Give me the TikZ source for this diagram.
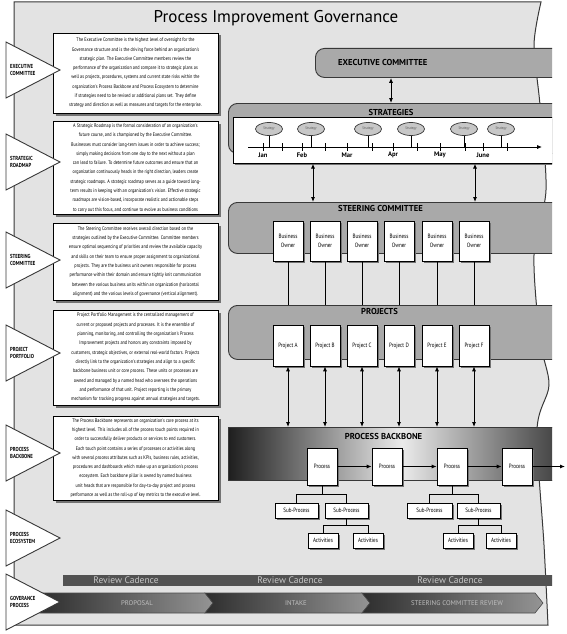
\documentclass[tikz,border=0pt]{standalone}
\usepackage{fontspec}
\setmainfont{PT Sans}
\newfontfamily\narrowfont[FakeStretch=0.82]{PT Sans}
\usetikzlibrary{positioning,shapes.geometric,shadows,arrows.meta}

\definecolor{panelgray}{HTML}{E3E3E3}
\definecolor{bandgray}{HTML}{A9A9A9}
\definecolor{edgegray}{HTML}{383838}

\begin{document}
\begin{tikzpicture}[x=1pt,y=-1pt,
  band/.style={fill=bandgray,draw=edgegray,line width=0.9pt,rounded corners=9pt,anchor=north west,inner sep=0pt,minimum width=360pt},
  bandlbl/.style={font=\bfseries\fontsize{8.6}{9}\selectfont,inner sep=0pt},
  para/.style={draw=black,fill=white,line width=0.9pt,minimum width=165pt,align=center,inner sep=2pt,
    font=\narrowfont\fontsize{5.2}{9.3}\selectfont,drop shadow={shadow xshift=2.5pt,shadow yshift=-2.5pt,fill=black!55,opacity=1}},
  tag/.style={font=\narrowfont\bfseries\fontsize{5.8}{7}\selectfont,align=left,inner sep=0pt,anchor=west},
  wbox/.style={draw=black,fill=white,line width=0.7pt,inner sep=0pt,align=center,
    font=\narrowfont\fontsize{6.2}{8.8}\selectfont,drop shadow={shadow xshift=1.6pt,shadow yshift=-1.6pt,fill=black!55,opacity=1}},
  strat/.style={ellipse,fill=black!22,draw=edgegray,line width=0.7pt,minimum width=27pt,minimum height=13pt,inner sep=0pt,
    font=\narrowfont\fontsize{3.8}{4}\selectfont,text=black!65},
  month/.style={font=\bfseries\fontsize{6.6}{7}\selectfont,inner sep=0pt},
  dbl/.style={line width=1pt,{Latex[length=5pt,width=4.2pt]}-{Latex[length=5pt,width=4.2pt]}},
  arr/.style={line width=1pt,-{Latex[length=5pt,width=4.2pt]}},
  twig/.style={line width=0.7pt},
  pale/.style={text=black!22,inner sep=0pt}
]
\useasboundingbox (0,0) rectangle (566,634);
\filldraw[fill=panelgray,draw=edgegray,line width=1pt] (14,2) -- plot[smooth] coordinates {(541,2) (534,45) (540,105) (546,190) (534,255) (540,340) (549,385) (537,430) (544,545) (548,625)} -- (14,625) -- cycle;
\node[font=\fontsize{17}{20}\selectfont,inner sep=0pt] (title) at (276,18) {Process Improvement Governance};

\node[para,minimum height=80pt] (txexec) at (135.5,73) {The Executive Committee is the highest level of oversight for the\\
Governance structure and is the driving force behind an organization's\\
strategic plan. The Executive Committee members review the\\
performance of the organization and compare it to strategic plans as\\
well as projects, procedures, systems and current state risks within the\\
organization's Process Backbone and Process Ecosystem to determine\\
if strategies need to be revised or additional plans set.  They define\\
strategy and direction as well as measures and targets for the enterprise.};
\node[para,minimum height=92pt] (txroad) at (135.5,168) {A Strategic Roadmap is the formal consideration of an organization's\\
future course, and is championed by the Executive Committee.\\
Businesses must consider long-term issues in order to achieve success;\\
simply making decisions from one day to the next without a plan\\
can lead to failure. To determine future outcomes and ensure that an\\
organization continuously heads in the right direction, leaders create\\
strategic roadmaps. A strategic roadmap serves as a guide toward long-\\
term results in keeping with an organization's vision. Effective strategic\\
roadmaps are vision-based, incorporate realistic and actionable steps\\
to carry out this focus, and continue to evolve as business conditions};
\node[para,minimum height=77pt] (txsteer) at (135.5,261.5) {The Steering Committee receives overall direction based on the\\
strategies outlined by the Executive Committee.  Committee members\\
ensure optimal sequencing of priorities and review the available capacity\\
and skills on their team to ensure proper assignment to organizational\\
projects.  They are the business unit owners responsible for process\\
performance within their domain and ensure tightly knit communication\\
between the various business units within an organization (horizontal\\
alignment) and the various levels of governance (vertical alignment).};
\node[para,minimum height=95pt] (txport) at (135.5,357.5) {Project Portfolio Management is the centralized management of\\
current or proposed projects and processes. It is the ensemble of\\
planning, monitoring, and controlling the organization's Process\\
Improvement projects and honors any constraints imposed by\\
customers, strategic objectives, or external real-world factors.  Projects\\
directly link to the organization's strategies and align to a specific\\
backbone business unit or core process.  These units or processes are\\
owned and managed by a named head who oversees the operations\\
and performance of that unit.  Project reporting is the primary\\
mechanism for tracking progress against annual strategies and targets.};
\node[para,minimum height=84pt] (txback) at (135.5,458) {The Process Backbone represents an organization's core process at its\\
highest level. This includes all of the process touch points required in\\
order to successfully deliver products or services to end customers.\\
Each touch point contains a series of processes or activities along\\
with several process attributes such as KPIs, business rules, activities,\\
procedures and dashboards which make up an organization's process\\
ecosystem. Each backbone pillar is owned by named business\\
unit heads that are responsible for day-to-day project and process\\
performance as well as the roll-up of key metrics to the executive level.};

\begin{scope}
\clip (0,0) rectangle (552,634);
\node[band,minimum width=260pt,minimum height=29pt] (exec) at (315,48) {};
\node[bandlbl,anchor=west] (execlbl) at (338,62) {EXECUTIVE COMMITTEE};
\node[band,minimum height=50pt] (strat) at (228,103) {};
\node[bandlbl] (stratlbl) at (391,112) {STRATEGIES};
\node[wbox,anchor=north west,minimum width=340pt,minimum height=46pt] (tline) at (233,117) {};
\node[band,minimum height=51pt] (steer) at (228,202) {};
\node[bandlbl] (steerlbl) at (380.5,208) {STEERING COMMITTEE};
\node[band,minimum height=54pt] (proj) at (228,305) {};
\node[bandlbl] (projlbl) at (379.5,311) {PROJECTS};
\node[anchor=north west,minimum width=347pt,minimum height=53pt,inner sep=0pt,draw=edgegray,line width=0.9pt,
  left color=black!88,right color=black!82,middle color=black!8] (bb) at (228,427) {};
\node[bandlbl] (bblbl) at (383.5,436) {PROCESS BACKBONE};
\node[fill=black!68,anchor=north west,minimum width=495pt,minimum height=11pt,inner sep=0pt] (cad) at (63,575) {};
\end{scope}
\foreach \x [count=\i] in {126,290,450}
  \node[pale,font=\fontsize{9.5}{10}\selectfont] (rc\i) at (\x,580.5) {Review Cadence};

\coordinate (tl0) at (248,147);
\coordinate (tl1) at (542,147);
\draw[arr,line width=0.9pt] (tl0) -- (tl1);
\foreach \x in {263,282,302,325,347,372,393,417,440,465,483,507}
  \draw[line width=0.7pt] (\x,143) -- (\x,151);
\foreach \x/\m in {263/Jan,302/Feb,347/Mar,393/Apr,440/May,483/June}
  \node[month] (m\m) at (\x,155) {\m};
\foreach \x [count=\i] in {269,311,368,411,464,501} {
  \node[strat] (s\i) at (\x,129) {Strategy};
  \draw[line width=0.8pt] (s\i.south) -- (s\i.south |- tl0);
}
\draw[dbl] (exec.south -| stratlbl.north) -- (strat.north -| stratlbl.north);
\coordinate (up1) at (313,0);
\coordinate (up2) at (475,0);
\draw[dbl] (tline.south -| up1) -- (steer.north -| up1);
\draw[dbl] (tline.south -| up2) -- (steer.north -| up2);

\foreach \x/\L [count=\i] in {288/A,325/B,362/C,399/D,437/E,474/F} {
  \node[wbox,minimum width=30pt,minimum height=40pt] (bo\i) at (\x,241) {Business\\Owner};
  \node[wbox,minimum width=30pt,minimum height=41pt] (pr\i) at (\x,345.5) {Project \L};
  \draw[line width=1pt] (bo\i.south) -- (bo\i.south |- proj.north);
  \draw[dbl] (pr\i.south) -- (pr\i.south |- bb.north);
}

\foreach \x [count=\i] in {322,387,452,517}
  \node[wbox,minimum width=30pt,minimum height=37pt] (pc\i) at (\x,466.5) {Process};
\coordinate (bbout) at (565,466.5);
\draw[arr] (pc1) -- (pc2);
\draw[arr] (pc2) -- (pc3);
\draw[arr] (pc3) -- (pc4);
\draw[arr] (pc4) -- (bbout);

\node[wbox,minimum width=43pt,minimum height=15pt] (sp1) at (296.5,510.5) {Sub-Process};
\node[wbox,minimum width=43pt,minimum height=15pt] (sp2) at (346.5,510.5) {Sub-Process};
\node[wbox,minimum width=30pt,minimum height=15pt] (ac1) at (323,540.5) {Activities};
\node[wbox,minimum width=30pt,minimum height=15pt] (ac2) at (368,540.5) {Activities};
\node[wbox,minimum width=45pt,minimum height=15pt] (sp3) at (429.5,510.5) {Sub-Process};
\node[wbox,minimum width=43pt,minimum height=15pt] (sp4) at (478.5,510.5) {Sub-Process};
\node[wbox,minimum width=30pt,minimum height=15pt] (ac3) at (458,540.5) {Activities};
\node[wbox,minimum width=30pt,minimum height=15pt] (ac4) at (501,540.5) {Activities};
\draw[twig] (pc1.south) -- ++(0,9) coordinate (j1);
\draw[twig] (sp1.north) |- (j1) -| (sp2.north);
\draw[twig] (sp2.south) -- ++(0,7) coordinate (k1);
\draw[twig] (ac1.north) |- (k1) -| (ac2.north);
\draw[twig] (pc3.south) -- ++(0,9) coordinate (j2);
\draw[twig] (sp3.north) |- (j2) -| (sp4.north);
\draw[twig] (sp4.south) -- ++(0,7) coordinate (k2);
\draw[twig] (ac3.north) |- (k2) -| (ac4.north);

\foreach \xa/\xb in {40/205,205/362,362/535}
  \shade[left color=black!82,right color=black!42,draw=black!70,line width=0.6pt]
    (\xa,593) -- (\xb,593) -- (\xb+8,603) -- (\xb,613) -- (\xa,613) -- (\xa+8,603) -- cycle;
\foreach \x/\t [count=\i] in {137/PROPOSAL,296/INTAKE,457/STEERING COMMITTEE REVIEW}
  \node[pale,text=black!25,font=\fontsize{6.8}{7}\selectfont] (gv\i) at (\x,603) {\t};

\foreach \y/\t [count=\i] in {70/EXECUTIVE\\COMMITTEE,162/STRATEGIC\\ROADMAP,260/STEERING\\COMMITTEE,353/PROJECT\\PORTFOLIO,453/PROCESS\\BACKBONE,538/PROCESS\\ECOSYSTEM,602/GOVERANCE\\PROCESS} {
  \draw[fill=white,draw=edgegray,line width=0.9pt] (6,\y-28) -- (60,\y) -- (6,\y+28) -- cycle;
  \node[tag] (tg\i) at (10,\y) {\t};
}
\end{tikzpicture}
\end{document}
